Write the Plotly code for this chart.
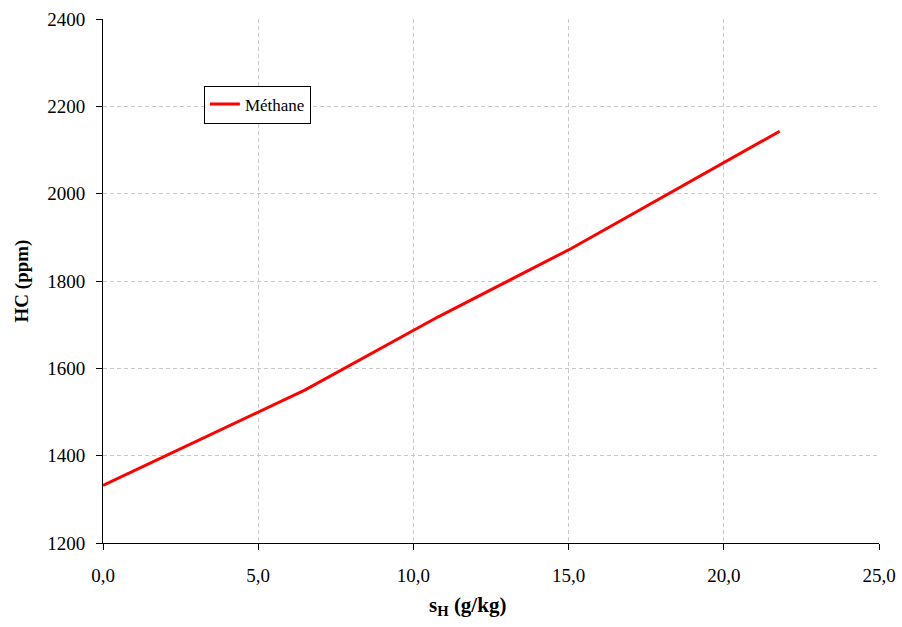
import plotly.graph_objects as go

sh = [0.0, 6.5, 10.8, 15.1, 21.8]
hc = [1332, 1550, 1718, 1875, 2143]
series_name = "Méthane"
x_ticks = [0, 5, 10, 15, 20, 25]
x_tick_labels = ["0,0", "5,0", "10,0", "15,0", "20,0", "25,0"]
y_ticks = [1200, 1400, 1600, 1800, 2000, 2200, 2400]
x_title = "<b>s<sub>H</sub> (g/kg)</b>"
y_title = "<b>HC (ppm)</b>"

font_family = "Liberation Serif, Times New Roman, serif"

fig = go.Figure()
fig.add_trace(go.Scatter(x=sh, y=hc, mode="lines", name=series_name,
                         line=dict(color="#ff0000", width=3)))

fig.add_annotation(text=x_title, xref="paper", yref="paper",
                   x=0.47, y=-0.12, xanchor="center", yanchor="middle",
                   showarrow=False, font=dict(size=21, family=font_family, color="black"))

fig.update_layout(
    width=902, height=627,
    margin=dict(l=103, r=23, t=19, b=84, autoexpand=False),
    plot_bgcolor="white", paper_bgcolor="white",
    font=dict(family=font_family, size=19, color="black"),
    showlegend=True,
    legend=dict(x=0.13, y=0.873, xanchor="left", yanchor="top",
                bordercolor="black", borderwidth=1, bgcolor="white",
                itemwidth=30, tracegroupgap=0,
                font=dict(size=17, family=font_family)),
    xaxis=dict(range=[0, 25], tickvals=x_ticks, ticktext=x_tick_labels,
               automargin=False,
               showline=True, linecolor="black", linewidth=1,
               ticks="outside", ticklen=6, tickcolor="black",
               tickfont=dict(size=19, family=font_family),
               ticklabelstandoff=9,
               showgrid=True, gridcolor="#c8c8c8", griddash="4px,3px", gridwidth=1,
               zeroline=False),
    yaxis=dict(range=[1200, 2400], tickvals=y_ticks,
               automargin=False,
               showline=True, linecolor="black", linewidth=1,
               ticks="outside", ticklen=6, tickcolor="black",
               tickfont=dict(size=19, family=font_family),
               ticklabelstandoff=7,
               showgrid=True, gridcolor="#c8c8c8", griddash="4px,3px", gridwidth=1,
               zeroline=False,
               title=dict(text=y_title, font=dict(size=19), standoff=13)),
)

fig.write_html("out.html", config={"displayModeBar": False},
               post_script="document.body.style.margin='0px';")
